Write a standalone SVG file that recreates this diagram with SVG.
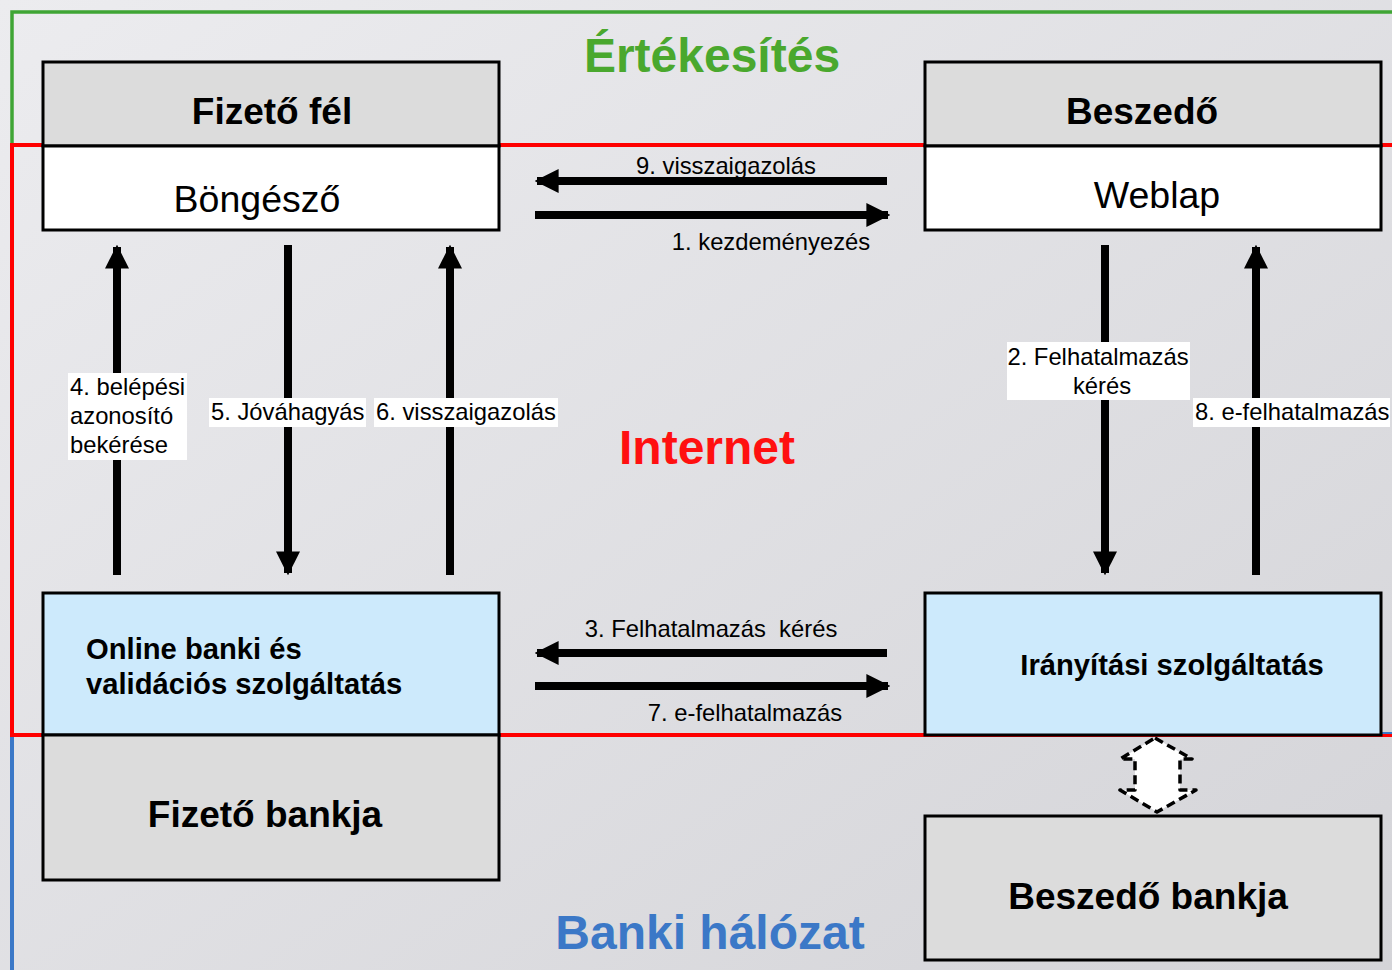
<svg xmlns="http://www.w3.org/2000/svg" width="1392" height="970" viewBox="0 0 1392 970">
<defs>
<linearGradient id="bg" x1="0" y1="0" x2="1" y2="1">
<stop offset="0" stop-color="#ececef"/>
<stop offset="1" stop-color="#d4d4d8"/>
</linearGradient>
<marker id="ah" viewBox="0 0 10 10" refX="9" refY="5" markerWidth="3" markerHeight="3" orient="auto" markerUnits="strokeWidth">
<path d="M0,0 L10,5 L0,10 z" fill="#000"/>
</marker>
<style>
.box{stroke:#000;stroke-width:3}
.grey{fill:#dcdcdc}
.white{fill:#fff}
.blue{fill:#cdeafc}
.t{font-family:"Liberation Sans",Arial,sans-serif;fill:#000}
.b{font-weight:bold}
.lab{font-family:"Liberation Sans",Arial,sans-serif;font-size:23.8px;fill:#000}
.arr{stroke:#000;stroke-width:8;fill:none;marker-end:url(#ah)}
.lbg{fill:#fff}
</style>
</defs>
<rect x="0" y="0" width="1392" height="970" fill="url(#bg)"/>
<g id="zones">
<polyline points="12,146 12,12 1392,12" fill="none" stroke="#3fa535" stroke-width="3.5"/>
<line x1="12" y1="735" x2="12" y2="970" stroke="#3b78c7" stroke-width="4"/>
<polyline points="1392,145 12,145 12,735 1392,735" fill="none" stroke="#ff0000" stroke-width="4"/>
<line x1="1381" y1="733" x2="1392" y2="733" stroke="#3b78c7" stroke-width="2"/>
<text x="712" y="72" text-anchor="middle" class="t b" font-size="48" style="fill:#4aa82e">Értékesítés</text>
<text x="707" y="464" text-anchor="middle" class="t b" font-size="48" style="fill:#ff1010">Internet</text>
<text x="710" y="949" text-anchor="middle" class="t b" font-size="48" style="fill:#3b78c7">Banki hálózat</text>
</g>
<g id="fizeto-fel">
<rect class="box grey" x="43" y="62" width="456" height="84"/>
<text class="t b" x="272" y="124" font-size="37" text-anchor="middle">Fizető fél</text>
</g>
<g id="bongeszo">
<rect class="box white" x="43" y="146" width="456" height="84"/>
<text class="t" x="257" y="212" font-size="37.5" text-anchor="middle">Böngésző</text>
</g>
<g id="beszedo">
<rect class="box grey" x="925" y="62" width="456" height="84"/>
<text class="t b" x="1142" y="124" font-size="37" text-anchor="middle">Beszedő</text>
</g>
<g id="weblap">
<rect class="box white" x="925" y="146" width="456" height="84"/>
<text class="t" x="1157" y="208" font-size="37.5" text-anchor="middle">Weblap</text>
</g>
<g id="online-banki">
<rect class="box blue" x="43" y="593" width="456" height="142"/>
<text class="t b" x="86" y="659" font-size="29.2">Online banki és</text>
<text class="t b" x="86" y="694" font-size="29.2">validációs szolgáltatás</text>
</g>
<g id="fizeto-bankja">
<rect class="box grey" x="43" y="735" width="456" height="145"/>
<text class="t b" x="265" y="827" font-size="37" text-anchor="middle">Fizető bankja</text>
</g>
<g id="iranyitasi">
<rect class="box blue" x="925" y="593" width="456" height="142"/>
<text class="t b" x="1172" y="675" font-size="29.2" text-anchor="middle">Irányítási szolgáltatás</text>
</g>
<g id="beszedo-bankja">
<rect class="box grey" x="925" y="816" width="456" height="144"/>
<text class="t b" x="1148" y="909" font-size="37" text-anchor="middle">Beszedő bankja</text>
</g>
<g id="connectors">
<line class="arr" x1="887" y1="181" x2="537" y2="181"/>
<line class="arr" x1="535" y1="215" x2="888" y2="215"/>
<line class="arr" x1="887" y1="653" x2="537" y2="653"/>
<line class="arr" x1="535" y1="686" x2="888" y2="686"/>
<line class="arr" x1="117" y1="575" x2="117" y2="247"/>
<line class="arr" x1="288" y1="245" x2="288" y2="573"/>
<line class="arr" x1="450" y1="575" x2="450" y2="247"/>
<line class="arr" x1="1105" y1="245" x2="1105" y2="573"/>
<line class="arr" x1="1256" y1="575" x2="1256" y2="247"/>
<polygon points="1155,738 1192,759 1180,759 1180,790 1196,790 1157,812 1120,790 1135,790 1135,759 1120,759" fill="#fff" stroke="#000" stroke-width="3.5" stroke-dasharray="9,5" stroke-linejoin="round"/>
<text class="lab" x="726" y="174" text-anchor="middle">9. visszaigazolás</text>
<text class="lab" x="771" y="250" text-anchor="middle">1. kezdeményezés</text>
<text class="lab" x="711" y="637" text-anchor="middle">3. Felhatalmazás&#160; kérés</text>
<text class="lab" x="745" y="721" text-anchor="middle">7. e-felhatalmazás</text>
<rect class="lbg" x="68" y="373" width="119" height="87"/>
<text class="lab" x="70" y="395">4. belépési</text>
<text class="lab" x="70" y="424">azonosító</text>
<text class="lab" x="70" y="453">bekérése</text>
<rect class="lbg" x="209" y="398" width="157" height="29"/>
<text class="lab" x="211" y="420">5. Jóváhagyás</text>
<rect class="lbg" x="374" y="398" width="184" height="29"/>
<text class="lab" x="376" y="420">6. visszaigazolás</text>
<rect class="lbg" x="1007" y="342" width="183" height="58"/>
<text class="lab" x="1098" y="365" text-anchor="middle">2. Felhatalmazás</text>
<text class="lab" x="1102" y="394" text-anchor="middle">kérés</text>
<rect class="lbg" x="1193" y="398" width="197" height="29"/>
<text class="lab" x="1195" y="420">8. e-felhatalmazás</text>
</g>
</svg>
